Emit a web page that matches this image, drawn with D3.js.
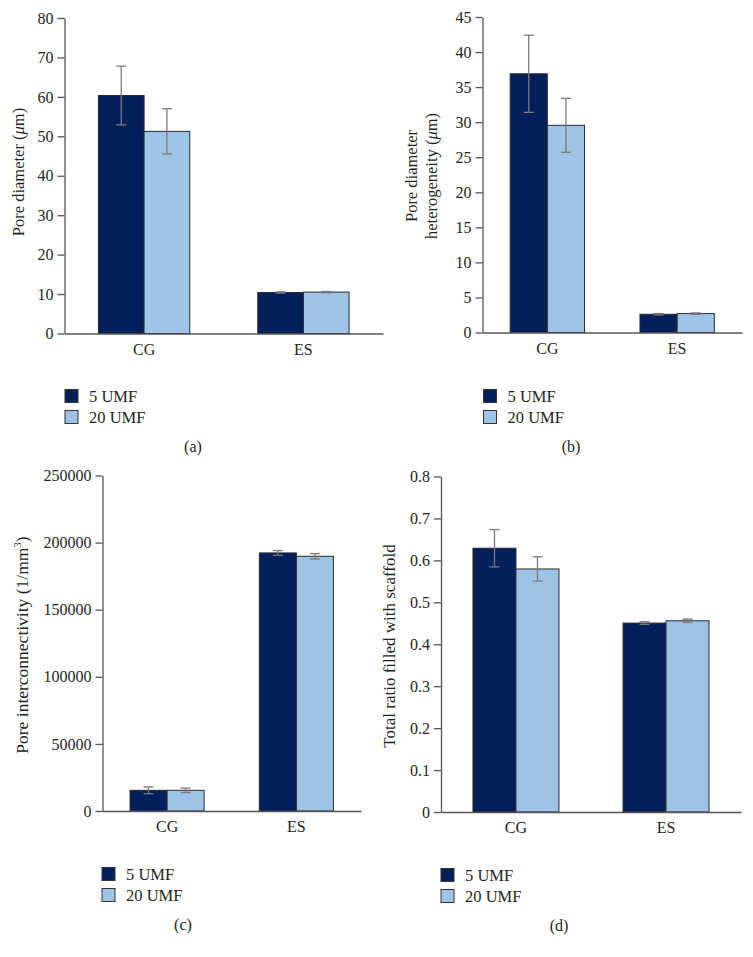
<!DOCTYPE html>
<html>
<head>
<meta charset="utf-8">
<script src="https://cdn.jsdelivr.net/npm/d3@7"></script>
<style>
  html, body { margin: 0; padding: 0; background: #fff; }
  svg { display: block; }
  text { font-family: "Liberation Serif", "DejaVu Serif", serif; fill: #231f20; }
</style>
</head>
<body>
<svg id="chart" width="753" height="957"></svg>
<script>
// ---------- data ----------
const categories = ["CG", "ES"];
const seriesNames = ["5 UMF", "20 UMF"];
const seriesColors = ["#04205c", "#9dc3e6"];

// (a) Pore diameter (µm)
const diameter5 = [60.35, 10.4];
const diameter5Err = [7.45, 0.15];
const diameter20 = [51.25, 10.5];
const diameter20Err = [5.75, 0.15];
const diameterTicks = [0, 10, 20, 30, 40, 50, 60, 70, 80];

// (b) Pore diameter heterogeneity (µm)
const hetero5 = [36.9, 2.6];
const hetero5Err = [5.5, 0.1];
const hetero20 = [29.55, 2.7];
const hetero20Err = [3.85, 0.1];
const heteroTicks = [0, 5, 10, 15, 20, 25, 30, 35, 40, 45];

// (c) Pore interconnectivity (1/mm^3)
const interconn5 = [15400, 192300];
const interconn5Err = [2500, 1750];
const interconn20 = [15400, 189800];
const interconn20Err = [1650, 2000];
const interconnTicks = [0, 50000, 100000, 150000, 200000, 250000];

// (d) Total ratio filled with scaffold
const ratio5 = [0.629, 0.4505];
const ratio5Err = [0.0445, 0.0032];
const ratio20 = [0.5795, 0.456];
const ratio20Err = [0.029, 0.004];
const ratioTicks = [0, 0.1, 0.2, 0.3, 0.4, 0.5, 0.6, 0.7, 0.8];

const panelLetters = ["(a)", "(b)", "(c)", "(d)"];

// ---------- layout ----------
const panels = [
  { letter: panelLetters[0], x0: 64.5, x1: 383, yTop: 18, yBot: 333.5, max: 80, ticks: diameterTicks,
    means: [diameter5, diameter20], errs: [diameter5Err, diameter20Err],
    title: [["Pore diameter (", {it: "μ"}, "m)"]], titleX: 20, titleY: 172, titleSize: 16.5,
    legX: 65, legY: 389.5, letterX: 193, letterY: 451.5 },
  { letter: panelLetters[1], x0: 482.5, x1: 742, yTop: 17, yBot: 332.5, max: 45, ticks: heteroTicks,
    means: [hetero5, hetero20], errs: [hetero5Err, hetero20Err],
    title: [["Pore diameter"], ["heterogeneity (", {it: "μ"}, "m)"]], titleX: 413, titleY: 176, titleSize: 16.5,
    legX: 483.5, legY: 389.5, letterX: 571, letterY: 451.5 },
  { letter: panelLetters[2], x0: 102.5, x1: 361, yTop: 475.5, yBot: 811, max: 250000, ticks: interconnTicks,
    means: [interconn5, interconn20], errs: [interconn5Err, interconn20Err],
    title: [["Pore interconnectivity (1/mm", {sup: "3"}, ")"]], titleX: 24, titleY: 645, titleSize: 17.5,
    legX: 102, legY: 867.5, letterX: 183, letterY: 929.5 },
  { letter: panelLetters[3], x0: 441, x1: 741, yTop: 476.5, yBot: 812, max: 0.8, ticks: ratioTicks,
    means: [ratio5, ratio20], errs: [ratio5Err, ratio20Err],
    title: [["Total ratio filled with scaffold"]], titleX: 391, titleY: 646, titleSize: 17,
    legX: 441, legY: 868.5, letterX: 559, letterY: 930.5 }
];

const svg = d3.select("#chart");
const axisColor = "#555";

panels.forEach(p => {
  const g = svg.append("g");
  const y = d3.scaleLinear().domain([0, p.max]).range([p.yBot, p.yTop]);
  const x = d3.scaleBand().domain(categories).range([p.x0, p.x1])
    .paddingInner(0.427).paddingOuter(0.213);
  const xs = d3.scaleBand().domain(seriesNames).range([0, x.bandwidth()]).padding(0);

  // bars
  seriesNames.forEach((s, si) => {
    g.selectAll(null).data(categories).join("rect")
      .attr("x", c => x(c) + xs(s))
      .attr("width", xs.bandwidth())
      .attr("y", (c, i) => y(p.means[si][i]))
      .attr("height", (c, i) => p.yBot - y(p.means[si][i]))
      .attr("fill", seriesColors[si])
      .attr("stroke", "#2b2b2b")
      .attr("stroke-width", 1);
  });

  // error bars
  seriesNames.forEach((s, si) => {
    categories.forEach((c, i) => {
      const cx = x(c) + xs(s) + xs.bandwidth() / 2;
      const m = p.means[si][i], e = p.errs[si][i];
      const eg = g.append("g").attr("stroke", "#7a7a7a").attr("stroke-width", 1.3);
      eg.append("line").attr("x1", cx).attr("x2", cx).attr("y1", y(m + e)).attr("y2", y(m - e));
      eg.append("line").attr("x1", cx - 5).attr("x2", cx + 5).attr("y1", y(m + e)).attr("y2", y(m + e));
      eg.append("line").attr("x1", cx - 5).attr("x2", cx + 5).attr("y1", y(m - e)).attr("y2", y(m - e));
    });
  });

  // y axis
  const ya = g.append("g").attr("transform", `translate(${p.x0},0)`)
    .call(d3.axisLeft(y).tickValues(p.ticks).tickFormat(d => String(d)).tickSize(7).tickSizeOuter(0).tickPadding(4));
  ya.select(".domain").attr("stroke", axisColor).attr("stroke-width", 1.3);
  ya.selectAll(".tick line").attr("stroke", axisColor).attr("stroke-width", 1.3);
  ya.selectAll("text").attr("font-size", 16).attr("font-family", "Liberation Serif").attr("fill", "#231f20");

  // x axis
  const xa = g.append("g").attr("transform", `translate(0,${p.yBot})`)
    .call(d3.axisBottom(x).tickSize(0).tickPadding(10));
  xa.select(".domain").attr("stroke", axisColor).attr("stroke-width", 1.3);
  xa.selectAll("text").attr("font-size", 16).attr("font-family", "Liberation Serif").attr("fill", "#231f20");

  // y title
  const lh = 20;
  p.title.forEach((parts, li) => {
    const t = g.append("text")
      .attr("transform", `translate(${p.titleX + li * lh},${p.titleY}) rotate(-90)`)
      .attr("text-anchor", "middle")
      .attr("dominant-baseline", "middle")
      .attr("font-size", p.titleSize);
    let raised = false;
    parts.forEach(part => {
      if (typeof part === "string") {
        const ts = t.append("tspan").text(part);
        if (raised) { ts.attr("dy", 6); raised = false; }
      } else if (part.it) {
        t.append("tspan").attr("font-style", "italic").text(part.it);
      } else if (part.sup) {
        t.append("tspan").attr("font-size", 11).attr("dy", -6).text(part.sup);
        raised = true;
      }
    });
  });

  // legend
  seriesNames.forEach((s, si) => {
    const ly = p.legY + si * 21;
    g.append("rect").attr("x", p.legX).attr("y", ly).attr("width", 13).attr("height", 13)
      .attr("fill", seriesColors[si]).attr("stroke", "#333").attr("stroke-width", 1);
    g.append("text").attr("x", p.legX + 24).attr("y", ly + 12).attr("font-size", 16.5).text(s);
  });

  // panel letter
  g.append("text").attr("x", p.letterX).attr("y", p.letterY).attr("text-anchor", "middle")
    .attr("font-size", 16).text(p.letter);
});
</script>
</body>
</html>
